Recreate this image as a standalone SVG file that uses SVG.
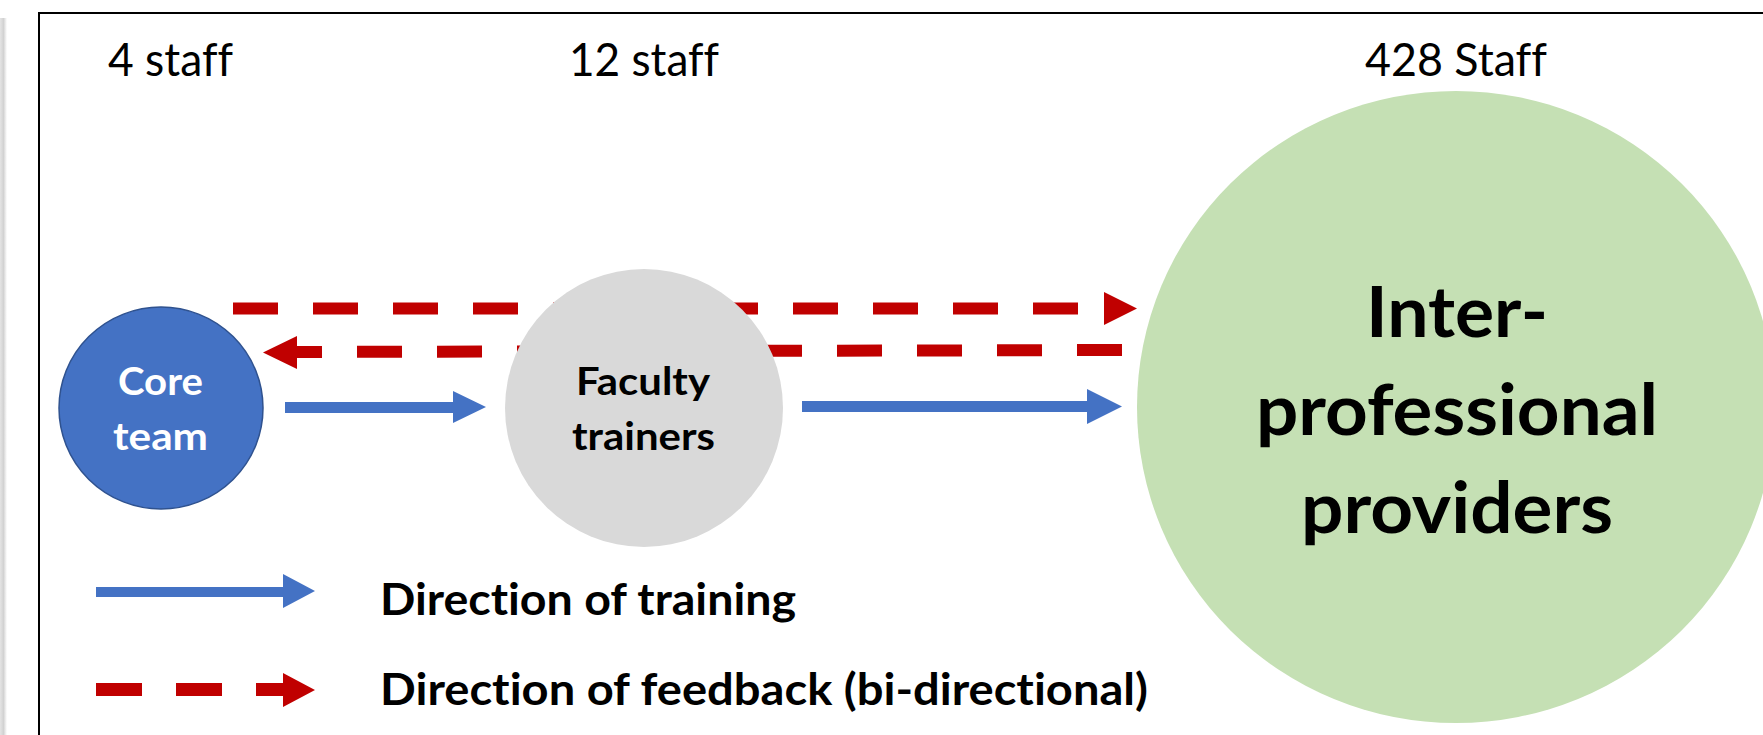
<svg xmlns="http://www.w3.org/2000/svg" width="1763" height="735" viewBox="0 0 1763 735">
  <defs>
    <linearGradient id="edgeShade" x1="0" y1="0" x2="1" y2="0">
      <stop offset="0" stop-color="#e4e4e4"/>
      <stop offset="0.5" stop-color="#d2d2d2"/>
      <stop offset="1" stop-color="#ffffff"/>
    </linearGradient>
    <style>
      .lbl { font-family: Lato, "Liberation Sans", sans-serif; fill: #000; font-variant-ligatures: none; font-feature-settings: "liga" 0, "clig" 0, "dlig" 0; }
      .count { font-size: 46px; font-weight: 400; }
      .node-txt { font-size: 39px; font-weight: 700; }
      .big-txt { font-size: 71px; font-weight: 700; }
      .legend-txt { font-size: 43px; font-weight: 700; }
      .train { fill: #4472C4; }
      .feedback-line { stroke: #C00000; stroke-width: 12; fill: none; stroke-dasharray: 45 35; }
      .feedback-head { fill: #C00000; }
    </style>
  </defs>

  <!-- page background and frame -->
  <rect x="0" y="0" width="1763" height="735" fill="#ffffff"/>
  <rect x="0" y="18" width="7" height="717" fill="url(#edgeShade)"/>
  <rect x="39" y="13" width="1800" height="800" fill="none" stroke="#000" stroke-width="2"/>

  <!-- group sizes -->
  <g id="counts">
    <text class="lbl count" x="108" y="76" textLength="125" lengthAdjust="spacingAndGlyphs">4 staff</text>
    <text class="lbl count" x="569" y="76" textLength="150" lengthAdjust="spacingAndGlyphs">12 staff</text>
    <text class="lbl count" x="1365" y="76" textLength="182" lengthAdjust="spacingAndGlyphs">428 Staff</text>
  </g>

  <!-- connectors -->
  <g id="connectors">
    <!-- feedback: core team to providers -->
    <line class="feedback-line" x1="233" y1="308.5" x2="1104" y2="308.5"/>
    <polygon class="feedback-head" points="1104,292 1137,308.5 1104,325"/>
    <!-- feedback: providers back to core team -->
    <line class="feedback-line" x1="1122" y1="350" x2="297" y2="352"/>
    <polygon class="feedback-head" points="297,336 263,352.5 297,369"/>
    <!-- training: core team to faculty -->
    <polygon class="train" points="285,402 453,402 453,391 486,407 453,423 453,413 285,413"/>
    <!-- training: faculty to providers -->
    <polygon class="train" points="802,401 1087,401 1087,389 1122,406.5 1087,424 1087,412 802,412"/>
  </g>

  <g id="node-core">
    <ellipse cx="161" cy="408" rx="102" ry="101" fill="#4472C4" stroke="#2F528F" stroke-width="1.5"/>
    <text class="lbl node-txt" x="118" y="395" textLength="85" lengthAdjust="spacingAndGlyphs" style="fill:#ffffff">Core</text>
    <text class="lbl node-txt" x="113" y="450" textLength="95" lengthAdjust="spacingAndGlyphs" style="fill:#ffffff">team</text>
  </g>

  <g id="node-faculty">
    <circle cx="644" cy="408" r="139" fill="#D9D9D9"/>
    <text class="lbl node-txt" x="576" y="395" textLength="134" lengthAdjust="spacingAndGlyphs">Faculty</text>
    <text class="lbl node-txt" x="572" y="450" textLength="143" lengthAdjust="spacingAndGlyphs">trainers</text>
  </g>

  <g id="node-providers">
    <ellipse cx="1456" cy="407" rx="319" ry="316" fill="#C5E0B4"/>
    <text class="lbl big-txt" x="1366" y="337" textLength="182" lengthAdjust="spacingAndGlyphs">Inter-</text>
    <text class="lbl big-txt" x="1256" y="435" textLength="402" lengthAdjust="spacingAndGlyphs">professional</text>
    <text class="lbl big-txt" x="1301" y="533" textLength="312" lengthAdjust="spacingAndGlyphs">providers</text>
  </g>

  <!-- legend -->
  <g id="legend">
    <polygon class="train" points="96,587 283,587 283,574 315,591 283,608 283,597 96,597"/>
    <text class="lbl legend-txt" x="380" y="615" textLength="416" lengthAdjust="spacingAndGlyphs">Direction of training</text>
    <rect class="feedback-head" x="96" y="683" width="46" height="13"/>
    <rect class="feedback-head" x="176" y="683" width="46" height="13"/>
    <polygon class="feedback-head" points="256,683 283,683 283,673 315,690 283,707 283,696 256,696"/>
    <text class="lbl legend-txt" x="380" y="705" textLength="768" lengthAdjust="spacingAndGlyphs">Direction of feedback (bi-directional)</text>
  </g>
</svg>
